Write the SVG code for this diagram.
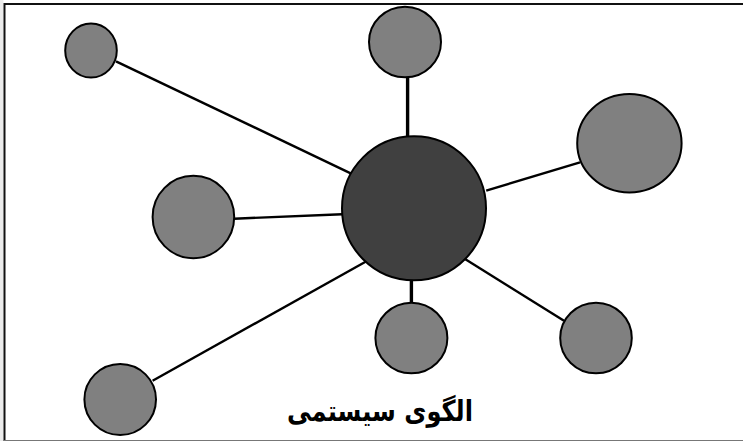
<svg xmlns="http://www.w3.org/2000/svg" width="743" height="441" viewBox="0 0 743 441">
<style>
.n{fill:#808080;stroke:#000;stroke-width:2}
.hub{fill:#404040;stroke:#000;stroke-width:2}
.c{stroke:#000;stroke-width:2.4;fill:none}
.t{stroke-width:3.4}
.lbl{font-family:"DejaVu Sans",sans-serif;font-weight:bold;font-size:29px;fill:#000}
</style>
<rect x="0" y="0" width="743" height="441" fill="#fff"/>
<rect x="0" y="0" width="3.5" height="441" fill="#ebebeb"/>
<g id="frame">
<line x1="4.5" y1="4" x2="743" y2="4" stroke="#111" stroke-width="2"/>
<line x1="4.5" y1="3" x2="4.5" y2="441" stroke="#111" stroke-width="2"/>
<line x1="4" y1="440.5" x2="743" y2="440.5" stroke="#777" stroke-width="1.2"/>
</g>
<g id="connectors">
<line class="c" x1="116" y1="61.3" x2="350.7" y2="173.3"/>
<line class="c t" x1="407.6" y1="77.3" x2="407.6" y2="137"/>
<line class="c" x1="486.2" y1="190.7" x2="580" y2="162.3"/>
<line class="c" x1="234.1" y1="218.7" x2="342.2" y2="214.3"/>
<line class="c" x1="152.6" y1="380.7" x2="368.7" y2="260"/>
<line class="c t" x1="411.4" y1="279.3" x2="411.4" y2="302.7"/>
<line class="c" x1="465.4" y1="259.3" x2="564" y2="320.7"/>
</g>
<g id="hub"><circle class="hub" cx="414" cy="208.3" r="72"/></g>
<g id="n1"><ellipse class="n" cx="91" cy="50.5" rx="25.8" ry="27"/></g>
<g id="n2"><ellipse class="n" cx="405" cy="42" rx="36" ry="35.3"/></g>
<g id="n3"><ellipse class="n" cx="629.4" cy="143.2" rx="52.2" ry="49.2"/></g>
<g id="n4"><ellipse class="n" cx="193.4" cy="217" rx="40.8" ry="41.2"/></g>
<g id="n5"><ellipse class="n" cx="411.4" cy="338" rx="36" ry="35.3"/></g>
<g id="n6"><ellipse class="n" cx="596" cy="338" rx="35.8" ry="35.3"/></g>
<g id="n7"><ellipse class="n" cx="120.2" cy="399.5" rx="35.8" ry="35.5"/></g>
<g id="title"><text class="lbl" x="380" y="421" text-anchor="middle" direction="rtl" textLength="186" lengthAdjust="spacingAndGlyphs">الگوی سیستمی</text></g>
</svg>
